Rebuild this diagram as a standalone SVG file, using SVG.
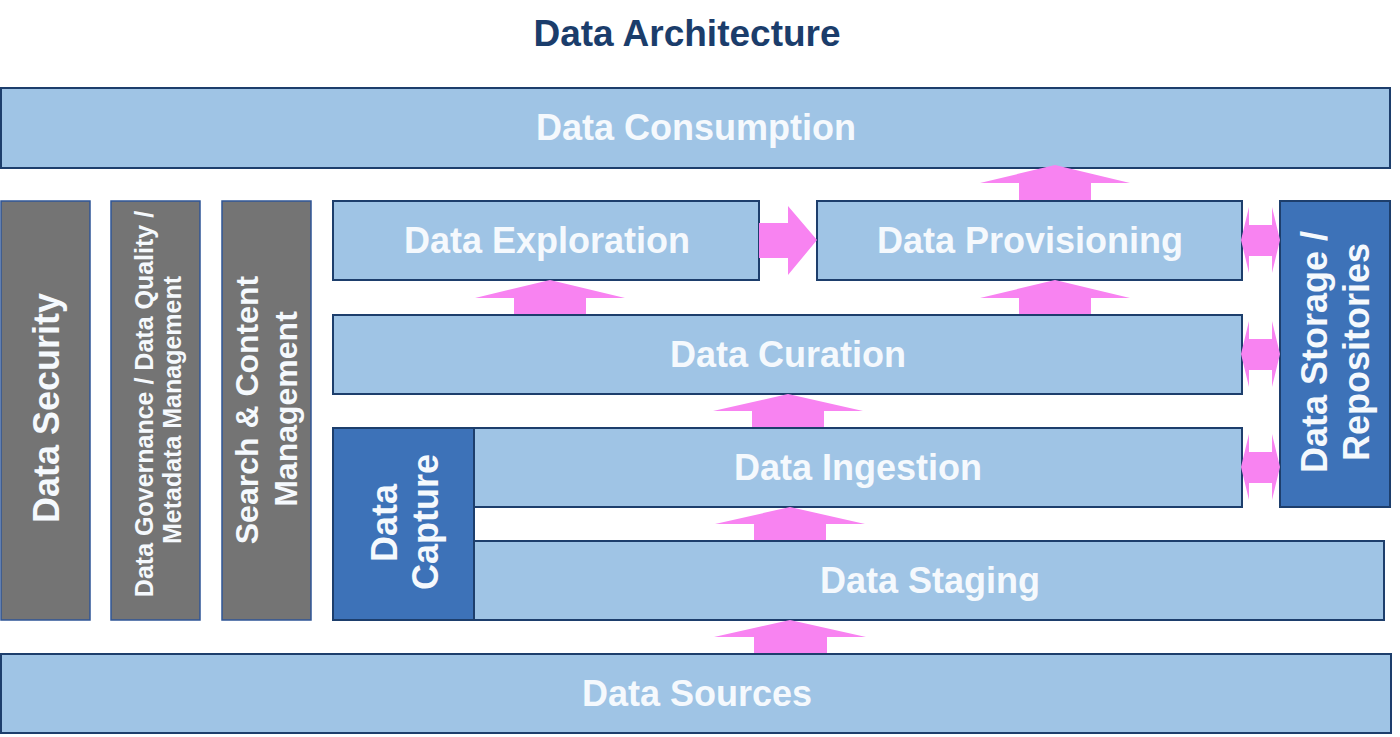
<svg xmlns="http://www.w3.org/2000/svg" width="1400" height="737" viewBox="0 0 1400 737">
<style>
.lb{fill:#9fc4e5;stroke:#1d3e6c;stroke-width:2}
.db{fill:#3d72b8;stroke:#1d3e6c;stroke-width:2}
.gr{fill:#747474;stroke:#2f5597;stroke-width:1.5}
.t{font-family:"Liberation Sans",Arial,sans-serif;font-weight:bold;fill:#f5f9fd;text-anchor:middle}
.ar{fill:#f883f1}
</style>
<rect width="1400" height="737" fill="#ffffff"/>
<text x="687" y="46" class="t" style="fill:#1b3d6b;font-size:37px">Data Architecture</text>
<g id="consumption"><rect class="lb" x="1" y="88" width="1389" height="80"/><text class="t" x="696" y="140" font-size="36">Data Consumption</text></g>
<g id="security"><rect class="gr" x="1" y="201" width="89" height="419"/><text class="t" font-size="36" transform="translate(59,408) rotate(-90)">Data Security</text></g>
<g id="governance"><rect class="gr" x="111" y="201" width="89" height="419"/><text class="t" font-size="25" transform="translate(153,404) rotate(-90)">Data Governance / Data Quality /</text><text class="t" font-size="25" transform="translate(181,410) rotate(-90)">Metadata Management</text></g>
<g id="search"><rect class="gr" x="222" y="201" width="89" height="419"/><text class="t" font-size="32" transform="translate(258,410) rotate(-90)">Search &amp; Content</text><text class="t" font-size="32" transform="translate(297,409) rotate(-90)">Management</text></g>
<g id="exploration"><rect class="lb" x="333" y="201" width="426" height="79"/><text class="t" x="547" y="253" font-size="36">Data Exploration</text></g>
<g id="provisioning"><rect class="lb" x="817" y="201" width="425" height="79"/><text class="t" x="1030" y="253" font-size="36">Data Provisioning</text></g>
<g id="curation"><rect class="lb" x="333" y="315" width="909" height="79"/><text class="t" x="788" y="367" font-size="36">Data Curation</text></g>
<g id="ingestion"><rect class="lb" x="474" y="428" width="768" height="79"/><text class="t" x="858" y="480" font-size="36">Data Ingestion</text></g>
<g id="staging"><rect class="lb" x="474" y="541" width="910" height="79"/><text class="t" x="930" y="593" font-size="36">Data Staging</text></g>
<g id="capture"><rect class="db" x="333" y="428" width="141" height="192"/><text class="t" font-size="36" transform="translate(397,523) rotate(-90)">Data</text><text class="t" font-size="36" transform="translate(438,522) rotate(-90)">Capture</text></g>
<g id="storage"><rect class="db" x="1280" y="201" width="110" height="306"/><text class="t" font-size="36" transform="translate(1327,352) rotate(-90)">Data Storage /</text><text class="t" font-size="36" transform="translate(1369,352) rotate(-90)">Repositories</text></g>
<g id="sources"><rect class="lb" x="1" y="654" width="1390" height="79"/><text class="t" x="697" y="706" font-size="36">Data Sources</text></g>
<g id="connectors">
<polygon class="ar" points="550,280 625,298 586,298 586,314 514,314 514,298 475,298"/>
<polygon class="ar" points="1055,280 1130,298 1091,298 1091,314 1019,314 1019,298 980,298"/>
<polygon class="ar" points="1055,165 1130,183 1091,183 1091,200 1019,200 1019,183 980,183"/>
<polygon class="ar" points="788,394 863,411 824,411 824,427 752,427 752,411 713,411"/>
<polygon class="ar" points="790,507 865,524 826,524 826,540 754,540 754,524 715,524"/>
<polygon class="ar" points="790,620 866,637 827,637 827,653 754,653 754,637 714,637"/>
<polygon class="ar" points="759,223 788,223 788,206 817,240 788,275 788,258 759,258"/>
<polygon class="ar" points="1241,240 1249,207 1249,225 1272,225 1272,207 1280,240 1272,273 1272,256 1249,256 1249,273"/>
<polygon class="ar" points="1241,354 1249,321 1249,339 1272,339 1272,321 1280,354 1272,387 1272,370 1249,370 1249,387"/>
<polygon class="ar" points="1241,467 1249,434 1249,452 1272,452 1272,434 1280,467 1272,500 1272,483 1249,483 1249,500"/>
</g>
</svg>
